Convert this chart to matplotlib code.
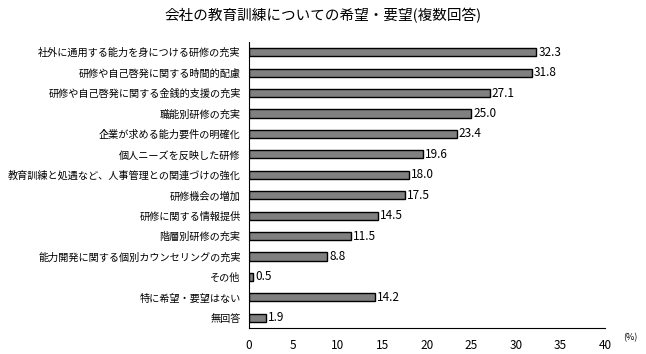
import matplotlib
matplotlib.use("Agg")
import matplotlib.pyplot as plt

plt.rcParams['font.family'] = ['Noto Sans CJK JP', 'DejaVu Sans']

labels = [
    "社外に通用する能力を身につける研修の充実",
    "研修や自己啓発に関する時間的配慮",
    "研修や自己啓発に関する金銭的支援の充実",
    "職能別研修の充実",
    "企業が求める能力要件の明確化",
    "個人ニーズを反映した研修",
    "教育訓練と処遇など、人事管理との関連づけの強化",
    "研修機会の増加",
    "研修に関する情報提供",
    "階層別研修の充実",
    "能力開発に関する個別カウンセリングの充実",
    "その他",
    "特に希望・要望はない",
    "無回答",
]
values = [32.3, 31.8, 27.1, 25.0, 23.4, 19.6, 18.0, 17.5, 14.5, 11.5, 8.8, 0.5, 14.2, 1.9]
xticks = [0, 5, 10, 15, 20, 25, 30, 35, 40]

fig = plt.figure(figsize=(6.46, 3.54), dpi=100)
ax = fig.add_axes([0.3854, 0.0734, 0.551, 0.808])

pos = list(range(len(values)))
ax.barh(pos, values, height=0.4, color="#808080", edgecolor="black", linewidth=1)
for p, v in zip(pos, values):
    ax.text(v + 0.2, p, f"{v:.1f}", va="center", ha="left", fontsize=8.5)

ax.set_ylim(len(values) - 0.5, -0.5)
ax.set_xlim(0, 40)
ax.set_yticks(pos)
ax.set_yticklabels(labels, fontsize=7.3)
ax.set_xticks(xticks)
ax.set_xticklabels([str(t) for t in xticks], fontsize=8.5)
ax.tick_params(axis="both", length=0)
ax.tick_params(axis="x", pad=8)
ax.tick_params(axis="y", pad=6)
for s in ["top", "right"]:
    ax.spines[s].set_visible(False)

fig.text(0.975, 0.045, "(%)", fontsize=6.5, ha="center", va="center")
fig.text(0.5, 0.955, "会社の教育訓練についての希望・要望(複数回答)", fontsize=10.5, ha="center", va="center")

fig.savefig("out.png", dpi=100)
